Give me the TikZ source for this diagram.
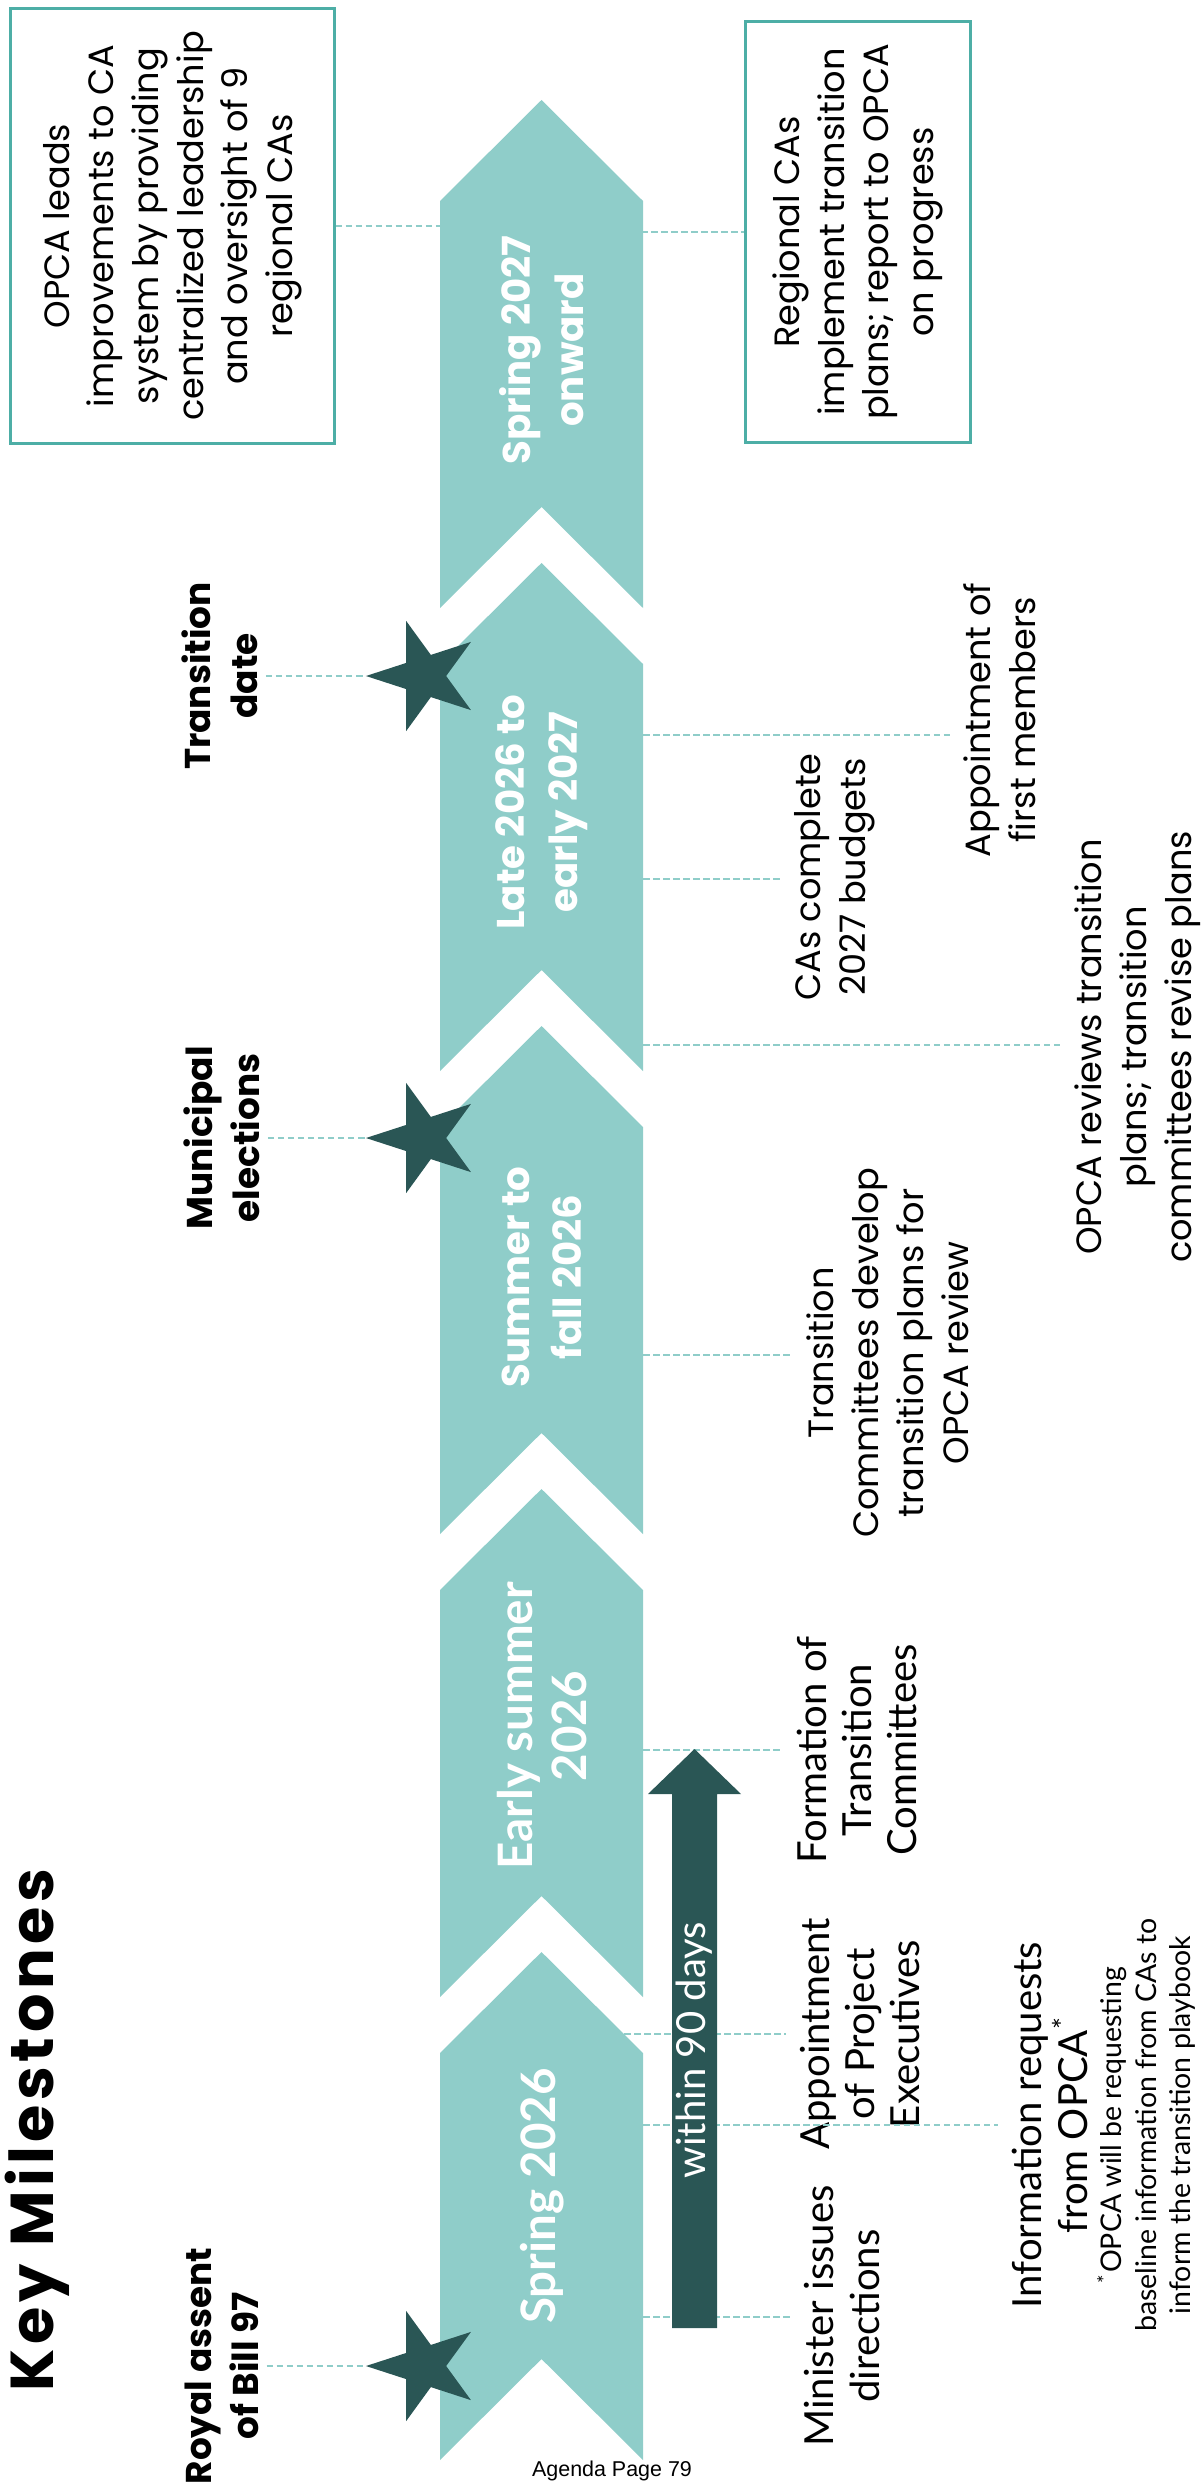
\documentclass[tikz,border=0pt]{standalone}
\usepackage{fontspec}
\setmainfont{Poppins}
\newfontfamily\gillfont{Lato}
\newfontfamily\pagefont{Liberation Sans}
\newfontfamily\titlefont{Poppins}[LetterSpace=7.5]
\usetikzlibrary{shapes.geometric}

\definecolor{chevfill}{HTML}{8FCDC9}
\definecolor{darkteal}{HTML}{2A5655}
\definecolor{boxline}{HTML}{4DAEA6}

\tikzset{every picture/.style = {x=0.01cm, y=-0.01cm}}
\tikzset{chevron/.style = {fill=chevfill}}
\tikzset{leader/.style = {chevfill, line width=0.75pt, dash pattern=on 1.85pt off 1pt}}
\tikzset{milestar/.style = {star, star points=5, star point ratio=2.618, shape border rotate=90,
  fill=darkteal, minimum size=1.16cm, inner sep=0, outer sep=0}}
\tikzset{milelabel/.style = {rotate=90, align=center, inner sep=2pt, font=\fontsize{10.2}{13.4}\selectfont\bfseries}}
\tikzset{when/.style = {rotate=90, align=center, white, font=\fontsize{11}{15}\selectfont\bfseries}}
\tikzset{gillwhen/.style = {when, font=\gillfont\fontsize{13.5}{15.4}\selectfont\bfseries}}
\tikzset{event/.style = {rotate=90, align=center, inner sep=0, outer sep=4pt, font=\fontsize{10}{12.8}\selectfont}}
\tikzset{gillevent/.style = {event, font=\gillfont\fontsize{11.4}{12.9}\selectfont}}
\tikzset{note/.style = {event, font=\gillfont\fontsize{8.1}{9.7}\selectfont}}
\tikzset{infobox/.style = {rotate=90, draw=boxline, line width=0.85pt, align=center, inner sep=0,
  font=\fontsize{10}{12.7}\selectfont}}

\begin{document}
\begin{tikzpicture}
  \useasboundingbox (0,0) rectangle (1200,2488);

  % chevrons, bottom to top
  \foreach \b in {2460,1997,1534,1071,608}
    \fill[chevron] (440,\b) -- (541.5,\b-101) -- (643,\b) -- (643,\b-407)
      -- (541.5,\b-508) -- (440,\b-407) -- cycle;

  \node[rotate=90, anchor=base, font=\titlefont\fontsize{17.2}{20}\selectfont\bfseries]
    (title) at (54,2130) {Key Milestones};

  % periods
  \node[gillwhen] (w1) at (542,2196) {Spring 2026};
  \node[gillwhen] (w2) at (542,1726) {Early summer\\2026};
  \node[when] (w3) at (542,1277) {Summer to\\fall 2026};
  \node[when] (w4) at (542,812) {Late 2026 to\\early 2027};
  \node[when] (w5) at (542,350) {Spring 2027\\onward};

  % milestones
  \node[milestar] (s1) at (424,2366) {};
  \node[milestar] (s2) at (424,1138) {};
  \node[milestar] (s3) at (424,676) {};
  \node[milelabel] (m1) at (222,2366) {Royal assent\\of Bill 97};
  \node[milelabel] (m2) at (222,1138) {Municipal\\elections};
  \node[milelabel] (m3) at (220,676) {Transition\\date};
  \draw[leader] (m1) -- (s1);
  \draw[leader] (m2) -- (s2);
  \draw[leader] (m3) -- (s3);

  % top boxes
  \node[infobox, minimum width=4.34cm, minimum height=3.23cm] (b1) at (172.5,226)
    {OPCA leads\\improvements to CA\\system by providing\\centralized leadership\\and oversight of 9\\regional CAs};
  \node[infobox, minimum width=4.20cm, minimum height=2.24cm] (b2) at (858,232)
    {Regional CAs\\implement transition\\plans; report to OPCA\\on progress};
  \coordinate (t1) at (440,226);
  \coordinate (t2) at (641,232);
  \draw[leader] (b1) -- (t1);
  \draw[leader] (t2) -- (b2);

  % events
  \node[gillevent] (ev1) at (842,2316) {Minister issues\\directions};
  \node[gillevent] (ev2) at (860,2034) {Appointment\\of Project\\Executives};
  \node[gillevent] (ev3) at (857,1750) {Formation of\\Transition\\Committees};
  \node[gillevent] (ev4) at (1050,2125) {Information requests\\from OPCA\textsuperscript{*}};
  \node[note] (ev4note) at (1146,2125)
    {\textsuperscript{*}OPCA will be requesting\\baseline information from CAs to\\inform the transition playbook};
  \node[event] (ev5) at (888,1353) {Transition\\Committees develop\\transition plans for\\OPCA review};
  \node[event] (ev6) at (835,877) {CAs complete\\2027 budgets};
  \node[event] (ev7) at (1000,720) {Appointment of\\first members};
  \node[event] (ev8) at (1138,1047) {OPCA reviews transition\\plans; transition\\committees revise plans};

  \coordinate (c1) at (643,2317);
  \coordinate (c2) at (624,2034);
  \coordinate (c3) at (643,1750);
  \coordinate (c4) at (643,2125);
  \coordinate (c5) at (643,1355);
  \coordinate (c6) at (643,879);
  \coordinate (c7) at (643,735);
  \coordinate (c8) at (643,1045);
  \foreach \i in {1,...,8}
    \draw[leader] (c\i) -- (c\i -| ev\i.north);

  % within 90 days arrow
  \fill[darkteal] (672,2328) -- (672,1794) -- (648,1794) -- (694.5,1749)
    -- (741,1794) -- (717,1794) -- (717,2328) -- cycle;
  \node[rotate=90, white, font=\gillfont\fontsize{11.4}{13}\selectfont] (days) at (694.5,2050) {within 90 days};

  \node[font=\pagefont\fontsize{6.1}{7}\selectfont] (page) at (612,2471) {Agenda Page 79};
\end{tikzpicture}
\end{document}
